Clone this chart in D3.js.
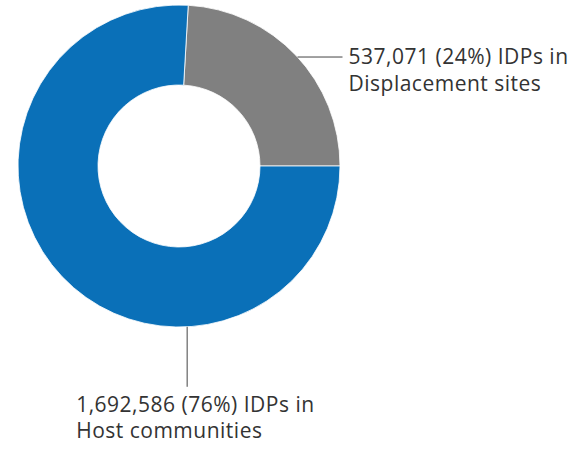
<!DOCTYPE html>
<html>
<head>
<meta charset="utf-8">
<script src="https://cdn.jsdelivr.net/npm/d3@7"></script>
<style>
  body { margin: 0; background: #fff; }
  svg { display: block; }
  text { font-family: "Open Sans", Lato, sans-serif; fill: #333; }
</style>
</head>
<body>
<div id="chart"></div>
<script>
// Data
const categories = ['Displacement sites', 'Host communities'];
const values = [537071, 1692586];
const percents = ['24%', '76%'];
const colors = ['#808080', '#0a70b8'];

const width = 569;
const height = 449;
const cx = 179;
const cy = 166;
const outerR = 161;
const innerR = 81;

const svg = d3.select('#chart').append('svg')
  .attr('width', width)
  .attr('height', height);

const g = svg.append('g').attr('transform', `translate(${cx}, ${cy})`);

const total = d3.sum(values);
// Grey slice ends at 3 o'clock
const start = Math.PI / 2 - (values[0] / total) * 2 * Math.PI;

const pie = d3.pie()
  .sort(null)
  .startAngle(start)
  .endAngle(start + 2 * Math.PI);

const arc = d3.arc().innerRadius(innerR).outerRadius(outerR);

const slices = pie(values);

g.selectAll('path')
  .data(slices)
  .join('path')
  .attr('d', arc)
  .attr('fill', (d, i) => colors[i])
  .attr('stroke', '#fff')
  .attr('stroke-width', 0.8);

const fmt = d3.format(',');

// Leader lines and labels
const labelDefs = [
  { angle: 47.4, dir: 'right', len: 45 },
  { angle: 177.1, dir: 'down', len: 60 }
];

labelDefs.forEach((def, i) => {
  const a = def.angle * Math.PI / 180;
  const x0 = outerR * Math.sin(a);
  const y0 = -outerR * Math.cos(a);
  let x1 = x0, y1 = y0, tx, ty;
  if (def.dir === 'right') {
    x1 = x0 + def.len;
    tx = x1 + 6;
    ty = y0 + 7;
  } else {
    y1 = y0 + def.len;
    tx = x1 - 111;
    ty = y1 + 25;
  }
  g.append('line')
    .attr('x1', x0).attr('y1', y0)
    .attr('x2', x1).attr('y2', y1)
    .attr('stroke', '#444')
    .attr('stroke-width', 1);

  const t = g.append('text')
    .attr('x', tx)
    .attr('y', ty)
    .attr('font-size', 21)
    .attr('letter-spacing', 0.5);
  t.append('tspan')
    .attr('x', tx)
    .text(`${fmt(values[i])} (${percents[i]}) IDPs in`);
  t.append('tspan')
    .attr('x', tx)
    .attr('dy', 26.5)
    .text(categories[i]);
});
</script>
</body>
</html>
